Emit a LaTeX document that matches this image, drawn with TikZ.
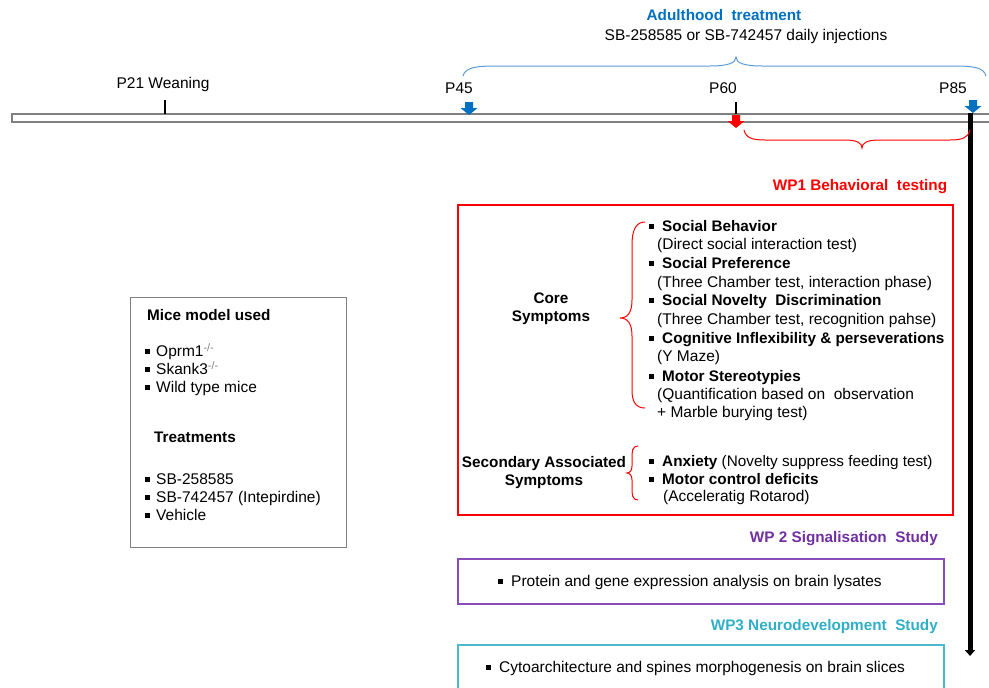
\documentclass[tikz,border=0pt]{standalone}
\usepackage{fontspec}
\setmainfont{Liberation Sans}
\usetikzlibrary{arrows.meta}
\definecolor{tblue}{HTML}{0070C0}
\definecolor{bbrace}{HTML}{5B9BD5}
\definecolor{tred}{HTML}{FF0000}
\definecolor{tpurple}{HTML}{7030A0}
\definecolor{bpurple}{HTML}{8A4CB8}
\definecolor{tteal}{HTML}{2FAFC6}
\definecolor{bteal}{HTML}{4BB8CC}
\definecolor{tgray}{HTML}{808080}
\newcommand\sqb{\rule[2.8pt]{5pt}{5pt}}
\newcommand\mm{\textsuperscript{\color{tgray}-/-}}
\begin{document}
\begin{tikzpicture}[x=1pt,y=-1pt,
  txt/.style={inner sep=0pt, font=\fontsize{15.5}{18}\selectfont, text height=11pt, text depth=2pt},
  bt/.style={inner sep=0pt, font=\fontsize{15.3}{18}\selectfont\bfseries, text height=11pt, text depth=2pt},
  lt/.style={txt, anchor=west},
  lb/.style={bt, anchor=west},
  blockarrow/.pic={\fill (-4,0) -- (4,0) -- (4,6) -- (8.5,6) -- (0,13) -- (-8.5,6) -- (-4,6) -- cycle;},
  bracepen/.style={line width=1pt}
]
\useasboundingbox (0,0) rectangle (989,688);
\clip (0,0) rectangle (989,688);

% timeline bar
\draw[tgray, line width=2.5pt, fill=white] (12,114) rectangle (1000,122);
\draw[black, line width=2pt] (165,100) -- (165,114);
\draw[black, line width=2pt] (736,102) -- (736,114);
\pic[tblue] at (469,102) {blockarrow};
\pic[tred] at (736,115) {blockarrow};

% P85 long arrow
\coordinate (p85top) at (970,113);
\coordinate (p85end) at (970,656);
\draw[black, line width=5pt, -{Triangle[width=10pt,length=6pt]}] (p85top) -- (p85end);
\pic[tblue] at (973,100) {blockarrow};

% timeline labels
\node[txt] (p21) at (163,84) {P21 Weaning};
\node[txt] (p45) at (459,89) {P45};
\node[txt] (p60) at (723,89) {P60};
\node[txt] (p85) at (953,89) {P85};

% adulthood
\node[bt, text=tblue] (adt) at (724,16) {Adulthood\ \ treatment};
\node[txt] (inj) at (746,36) {SB-258585 or SB-742457 daily injections};
\draw[bbrace, bracepen] (463,76) .. controls (465,68) and (475,66) .. (495,66) -- (710,66) .. controls (728,66) and (736,63) .. (736,57) .. controls (736,63) and (744,66) .. (762,66) -- (955,66) .. controls (975,66) and (984,68) .. (986,76);

% red brace
\draw[tred, bracepen] (744,130) .. controls (746,138) and (752,140) .. (765,140) -- (845,140) .. controls (857,140) and (862,143) .. (862,148) .. controls (862,143) and (867,140) .. (879,140) -- (950,140) .. controls (962,140) and (968,138) .. (970,130);

% WP1
\node[bt, text=tred] (wp1) at (860,186) {WP1 Behavioral\ \ testing};
\draw[tred, line width=1.2pt] (458,205) rectangle (953,515);
\node[bt, align=center, text depth=0pt] (core) at (551,316) {Core\\Symptoms};
\draw[tred, bracepen] (645,222) .. controls (636,222) and (632,230) .. (632,245) -- (632,300) .. controls (632,312) and (628,318) .. (620,318) .. controls (628,318) and (632,324) .. (632,336) -- (632,390) .. controls (632,402) and (636,408) .. (645,408);

\node[lb] (i1) at (649,227) {\sqb\hspace{8pt}Social Behavior};
\node[lt] (s1) at (657,245) {(Direct social interaction test)};
\node[lb] (i2) at (649,264) {\sqb\hspace{8pt}Social Preference};
\node[lt] (s2) at (657,283) {(Three Chamber test, interaction phase)};
\node[lb] (i3) at (649,301) {\sqb\hspace{8pt}Social Novelty\ \ Discrimination};
\node[lt] (s3) at (657,320) {(Three Chamber test, recognition pahse)};
\node[lb] (i4) at (649,339) {\sqb\hspace{8pt}Cognitive Inflexibility \& perseverations};
\node[lt] (s4) at (657,357) {(Y Maze)};
\node[lb] (i5) at (649,377) {\sqb\hspace{8pt}Motor Stereotypies};
\node[lt] (s5) at (657,395) {(Quantification based on\ \ observation};
\node[lt] (s5b) at (657,413) {+ Marble burying test)};

\node[bt, align=center, text depth=0pt] (sec) at (544,480) {Secondary Associated\\Symptoms};
\draw[tred, bracepen] (638,446) .. controls (632,446) and (632,452) .. (632,458) -- (632,466) .. controls (632,470) and (630,473) .. (627,473) .. controls (630,473) and (632,476) .. (632,480) -- (632,488) .. controls (632,494) and (632,500) .. (638,500);
\node[lb] (i6) at (649,462) {\sqb\hspace{8pt}Anxiety\mdseries\ (Novelty suppress feeding test)};
\node[lb] (i7) at (649,480) {\sqb\hspace{8pt}Motor control deficits};
\node[lt] (s7) at (663,497) {(Acceleratig Rotarod)};

% WP2
\node[bt, text=tpurple, anchor=east] (wp2) at (938,538) {WP 2 Signalisation\ \ Study};
\draw[bpurple, line width=1.2pt] (458,559) rectangle (944,604);
\node[lt] (wp2t) at (498,582) {\sqb\hspace{8pt}Protein and gene expression analysis on brain lysates};

% WP3
\node[bt, text=tteal, anchor=east] (wp3) at (938,626) {WP3 Neurodevelopment\ \ Study};
\draw[bteal, line width=1.2pt] (458,645) rectangle (944,700);
\node[lt] (wp3t) at (486,668) {\sqb\hspace{8pt}Cytoarchitecture and spines morphogenesis on brain slices};

% left box
\draw[tgray, line width=1pt] (130,297) rectangle (346,547);
\node[lb] (mice) at (147,316) {Mice model used};
\node[lt] (m1) at (145,352) {\sqb\hspace{6pt}Oprm1\mm};
\node[lt] (m2) at (145,370) {\sqb\hspace{6pt}Skank3\mm};
\node[lt] (m3) at (145,388) {\sqb\hspace{6pt}Wild type mice};
\node[lb] (treat) at (154,438) {Treatments};
\node[lt] (t1) at (145,480) {\sqb\hspace{6pt}SB-258585};
\node[lt] (t2) at (145,498) {\sqb\hspace{6pt}SB-742457 (Intepirdine)};
\node[lt] (t3) at (145,516) {\sqb\hspace{6pt}Vehicle};
\end{tikzpicture}
\end{document}
